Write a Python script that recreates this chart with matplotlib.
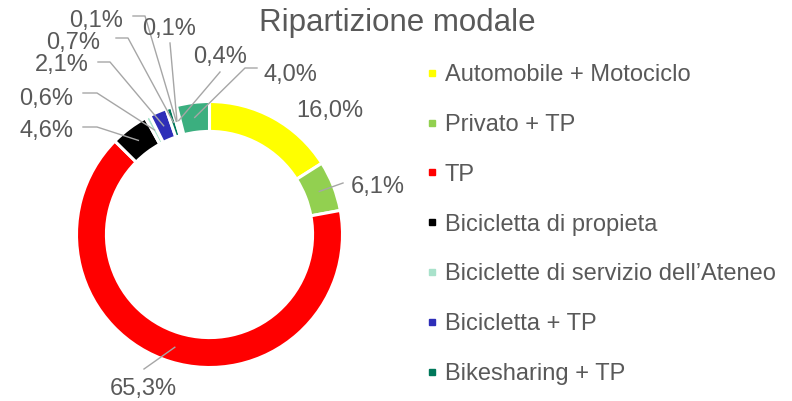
import matplotlib
matplotlib.use("Agg")
import matplotlib.pyplot as plt
from matplotlib.lines import Line2D
import numpy as np

plt.rcParams['font.family'] = ['Liberation Sans', 'DejaVu Sans']

# ---- data ----
categories = ["Automobile + Motociclo", "Privato + TP", "TP", "Bicicletta di propieta",
              "Biciclette di servizio dell\u2019Ateneo", "Bicicletta + TP", "Bikesharing + TP",
              "Altro 1", "Altro 2", "Altro 3", "Altro 4"]
values = [16.0, 6.1, 65.3, 4.6, 0.6, 2.1, 0.7, 0.1, 0.1, 0.4, 4.0]
value_labels = ["16,0%", "6,1%", "65,3%", "4,6%", "0,6%", "2,1%", "0,7%", "0,1%", "0,1%", "0,4%", "4,0%"]
n_legend = 7

colors = ["#FFFF00", "#92D050", "#FF0000", "#000000", "#A9E2CB", "#2E2EB8", "#00785A",
          "#F4F4F4", "#F4F4F4", "#F4F4F4", "#3BAF7F"]

W, H = 792, 401
fig = plt.figure(figsize=(W / 100, H / 100), dpi=100)

cx, cy, R = 209.5, 234.5, 133.0
ax = fig.add_axes([(cx - R) / W, (H - cy - R) / H, 2 * R / W, 2 * R / H])

wedges, _ = ax.pie(values, colors=colors, startangle=90, counterclock=False, radius=1.0,
                   wedgeprops=dict(width=0.225, edgecolor='white', linewidth=2.2))
ax.set_xlim(-1, 1)
ax.set_ylim(-1, 1)
ax.axis('off')

text_color = "#595959"
line_color = "#A6A6A6"
fs = 17

def px2data(px, py):
    return ((px - cx) / R, (cy - py) / R)

# label layout (pixel positions of label centres and leader-line elbows)
label_pos = [(330, 108), (377.5, 185), (143.5, 386), (46.5, 128), (46.5, 96), (62, 63),
             (73.5, 40), (96.5, 18), (169.5, 27), (220.5, 55), (290.5, 72)]
leader_pts = [
    None,
    [(343, 183)],
    [(144, 369)],
    [(83, 127), (97, 127)],
    [(83, 93), (97, 93)],
    [(98, 62), (110, 62)],
    [(116, 38), (128, 38)],
    [(133, 16), (145, 16)],
    [(170, 43)],
    [(220, 72)],
    [(257, 68), (245, 68)],
]

for w, lab, pos, pts in zip(wedges, value_labels, label_pos, leader_pts):
    ang = np.deg2rad((w.theta1 + w.theta2) / 2)
    r_mid = 0.887
    anchor = (r_mid * np.cos(ang), r_mid * np.sin(ang))
    if pts is not None:
        xs = [px2data(*p)[0] for p in pts] + [anchor[0]]
        ys = [px2data(*p)[1] for p in pts] + [anchor[1]]
        ax.add_line(Line2D(xs, ys, color=line_color, linewidth=1.0, clip_on=False))
    fig.text(pos[0] / W, 1 - (pos[1] + 2.5) / H, lab, ha='center', va='center',
             fontsize=fs, color=text_color)

fig.text(397.5 / W, 1 - 23 / H, "Ripartizione modale", ha='center', va='center',
         fontsize=22.5, color=text_color)

handles = [Line2D([], [], linestyle='none', marker='s', markersize=5,
                  markerfacecolor=colors[i], markeredgecolor=colors[i])
           for i in range(n_legend)]
leg = fig.legend(handles, categories[:n_legend], loc='upper left',
                 bbox_to_anchor=(426 / W, 1 - 64 / H), frameon=False,
                 fontsize=fs, handlelength=0.5, handletextpad=0.3,
                 labelspacing=1.18, borderpad=0, borderaxespad=0)
for t in leg.get_texts():
    t.set_color(text_color)

fig.savefig("out.png", dpi=100)
